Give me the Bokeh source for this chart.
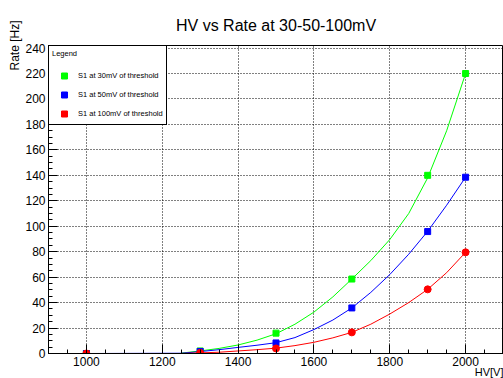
from bokeh.plotting import figure
from bokeh.models import SingleIntervalTicker, Legend, LegendItem, Range1d, Title
from bokeh.embed import file_html
from bokeh.resources import INLINE

# measured points
hv = [1000, 1300, 1500, 1700, 1900, 2000]
rate_30mv = [0, 2, 16, 58.5, 140, 220]
rate_50mv = [0, 1.6, 8.3, 35.8, 95.8, 138.5]
rate_100mv = [0, 0.5, 4, 16.6, 50.4, 79.5]

# fitted curves
fit_hv_30mv = [1250, 1300, 1350, 1400, 1450, 1500, 1550, 1600, 1650, 1700,
               1750, 1800, 1850, 1900, 1950, 2000]
fit_30mv = [0.3, 2, 4, 6.7, 10.5, 15.5, 23, 32.5, 44.5, 58.5,
            73, 89.5, 110, 138, 175, 220]

fit_hv_50mv = [1000, 1250, 1300, 1350, 1400, 1450, 1500, 1550, 1600, 1650,
               1700, 1750, 1800, 1850, 1900, 1950, 2000]
fit_50mv = [0, 0.2, 1.5, 3, 4.8, 6.5, 8.5, 12.5, 18.8, 26.3,
            35.8, 48, 62, 78, 96, 116.5, 138.5]

fit_hv_100mv = [1000, 1250, 1300, 1350, 1400, 1450, 1500, 1550, 1600, 1650,
                1700, 1750, 1800, 1850, 1900, 1950, 2000]
fit_100mv = [0, 0, 0.5, 1, 2, 3, 4.2, 6.2, 8.8, 12.3,
             16.6, 23, 31, 40, 50.4, 63.5, 79.5]

labels = ["S1 at 30mV of threshold", "S1 at 50mV of threshold", "S1 at 100mV of threshold"]
title_text = "HV vs Rate at 30-50-100mV"
x_title = "HV[V]"
y_title = "Rate [Hz]"

GREEN, BLUE, RED = "#00ff00", "#0000ff", "#ff0000"
FONT = "Liberation Sans"

p = figure(width=503, height=378, x_range=Range1d(900, 2100), y_range=Range1d(0, 242),
           output_backend="svg", toolbar_location=None,
           min_border_left=48, min_border_right=0, min_border_top=45, min_border_bottom=25)
p.background_fill_color = "white"
p.border_fill_color = "white"
p.outline_line_color = "black"
p.outline_line_width = 1

p.title.text = title_text
p.title.align = "center"
p.title.text_font = FONT
p.title.text_font_size = "16px"
p.title.text_font_style = "normal"
p.title.text_color = "black"
p.title.standoff = 24

p.xaxis.ticker = SingleIntervalTicker(interval=200, num_minor_ticks=4)
p.yaxis.ticker = SingleIntervalTicker(interval=20, num_minor_ticks=4)
for ax in (p.xaxis[0], p.yaxis[0]):
    ax.major_tick_in = 9
    ax.major_tick_out = 0
    ax.minor_tick_in = 4
    ax.minor_tick_out = 0
    ax.axis_line_color = "black"
    ax.major_tick_line_color = "black"
    ax.minor_tick_line_color = "black"
    ax.major_label_text_font = FONT
    ax.major_label_text_font_size = "12px"
    ax.major_label_text_color = "black"
    ax.major_label_standoff = 3

p.yaxis.axis_label = y_title
p.yaxis.axis_label_text_font = FONT
p.yaxis.axis_label_text_font_style = "normal"
p.yaxis.axis_label_text_color = "black"
p.yaxis.axis_label_text_font_size = "12px"
p.yaxis.axis_label_align = "end"
p.yaxis.axis_label_standoff = 0

x_lab = Title(text=x_title, align="right", text_font=FONT, text_font_size="11px",
              text_font_style="normal", text_color="black", standoff=-10, offset=0)
p.add_layout(x_lab, "below")

p.grid.grid_line_color = "black"
p.grid.grid_line_dash = "1 2"
p.grid.grid_line_width = 1

g_line = p.line(fit_hv_30mv, fit_30mv, line_color=GREEN, line_width=1)
g_pts = p.scatter(hv, rate_30mv, marker="square", size=6, color=GREEN)
b_line = p.line(fit_hv_50mv, fit_50mv, line_color=BLUE, line_width=1)
b_pts = p.scatter(hv, rate_50mv, marker="square", size=6, color=BLUE)
r_line = p.line(fit_hv_100mv, fit_100mv, line_color=RED, line_width=1)
r_sq = p.scatter(hv, rate_100mv, marker="square", size=4, color=RED)
r_pts = p.scatter(hv, rate_100mv, marker="circle", size=7, color=RED)

legend = Legend(items=[LegendItem(label=labels[0], renderers=[g_pts]),
                       LegendItem(label=labels[1], renderers=[b_pts]),
                       LegendItem(label=labels[2], renderers=[r_sq])],
                location="top_left", title="Legend")
legend.margin = 0
legend.padding = 3
legend.spacing = 4
legend.glyph_width = 24
legend.glyph_height = 15
legend.label_height = 15
legend.label_standoff = 2
legend.title_standoff = 10
legend.label_text_font = FONT
legend.label_text_font_size = "7.5px"
legend.label_text_color = "black"
legend.title_text_font = FONT
legend.title_text_font_size = "7.5px"
legend.title_text_font_style = "normal"
legend.title_text_color = "black"
legend.border_line_color = "black"
legend.border_line_width = 1
legend.border_line_alpha = 1
legend.background_fill_color = "white"
legend.background_fill_alpha = 1
p.add_layout(legend)

open("out.html", "w").write(file_html(p, INLINE))
